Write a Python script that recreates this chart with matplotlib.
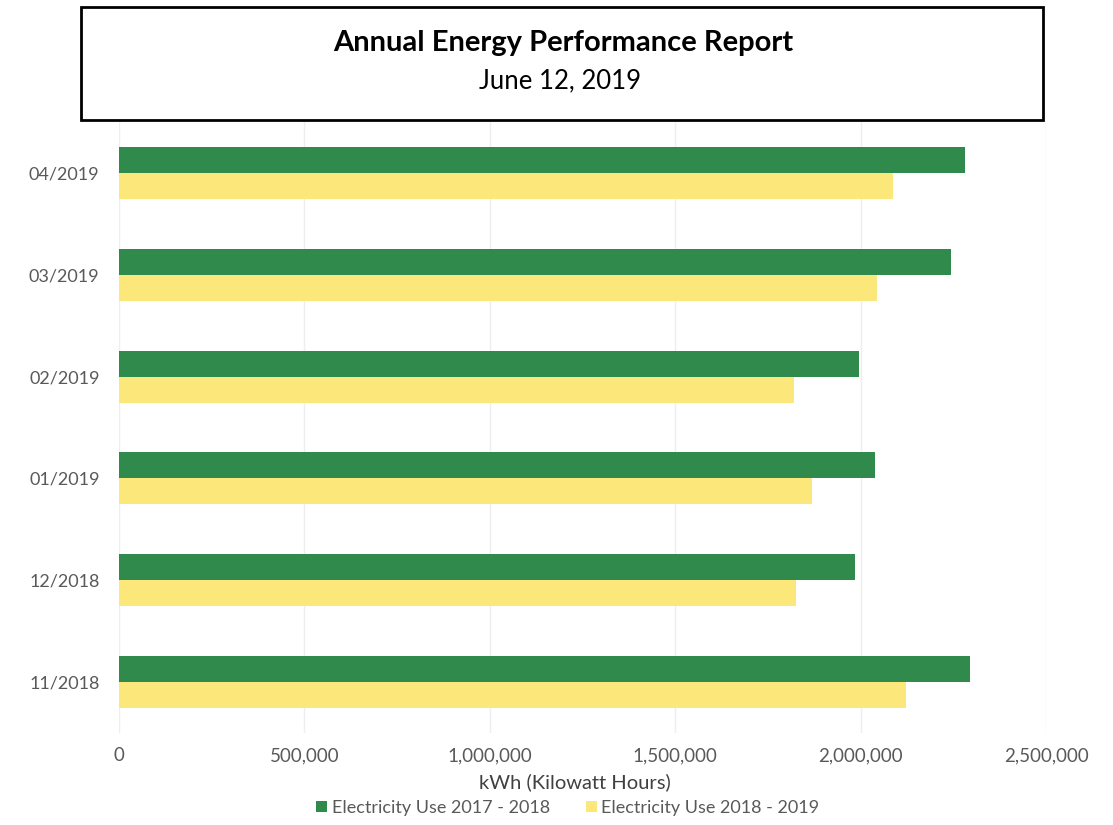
import matplotlib
matplotlib.use("Agg")
import matplotlib.pyplot as plt
from matplotlib.patches import Rectangle, Patch
import numpy as np

months = ["11/2018", "12/2018", "01/2019", "02/2019", "03/2019", "04/2019"]
use_2017_2018 = [2295000, 1985000, 2040000, 1995000, 2245000, 2282000]
use_2018_2019 = [2123000, 1827000, 1870000, 1821000, 2045000, 2088000]
series_names = ["Electricity Use 2017 - 2018", "Electricity Use 2018 - 2019"]
x_ticks = [0, 500000, 1000000, 1500000, 2000000, 2500000]

GREEN = "#2f8a4c"
YELLOW = "#fbe77a"
GRAY = "#595959"

plt.rcParams["font.family"] = ["Lato", "DejaVu Sans"]

W, H = 1113, 825
fig = plt.figure(figsize=(W / 100, H / 100), dpi=100)

left, right, top, bottom = 119, 1046, 122, 733
ax = fig.add_axes([left / W, 1 - bottom / H, (right - left) / W, (bottom - top) / H])

y = np.arange(len(months))
h = 0.255
ax.barh(y + h / 2, use_2017_2018, height=h, color=GREEN, label=series_names[0], zorder=3)
ax.barh(y - h / 2, use_2018_2019, height=h, color=YELLOW, label=series_names[1], zorder=3)

ax.set_xlim(0, 2500000)
ax.set_ylim(-0.5, len(months) - 0.5)
ax.set_yticks(y)
ax.set_yticklabels(months, fontsize=13, color=GRAY)
ax.set_xticks(x_ticks)
ax.set_xticklabels([f"{v:,}" for v in x_ticks], fontsize=13.5, color=GRAY)
ax.tick_params(axis="both", length=0)
ax.tick_params(axis="x", pad=10)
ax.tick_params(axis="y", pad=14)
ax.grid(axis="x", color="#eeeeee", linewidth=1, zorder=0)
for s in ax.spines.values():
    s.set_visible(False)

fig.text(575 / W, 1 - 782 / H, "kWh (Kilowatt Hours)", ha="center", va="center",
         fontsize=14.5, color="#404040")

handles = [Patch(facecolor=GREEN), Patch(facecolor=YELLOW)]
fig.legend(handles, series_names, loc="center", bbox_to_anchor=(568 / W, 1 - 808 / H),
           ncol=2, frameon=False, fontsize=13, labelcolor=GRAY,
           handlelength=0.6, handleheight=0.6, handletextpad=0.25, columnspacing=2.0)

fig.patches.append(Rectangle((81 / W, 1 - 120 / H), (1043 - 81) / W, (120 - 7) / H,
                             transform=fig.transFigure, fill=False, edgecolor="black",
                             linewidth=2))
fig.text(563 / W, 1 - 43 / H, "Annual Energy Performance Report", ha="center", va="center",
         fontsize=21, fontweight="bold", color="black")
fig.text(560 / W, 1 - 81 / H, "June 12, 2019", ha="center", va="center",
         fontsize=18.5, color="black")

fig.savefig("out.png", dpi=100, facecolor="white")
